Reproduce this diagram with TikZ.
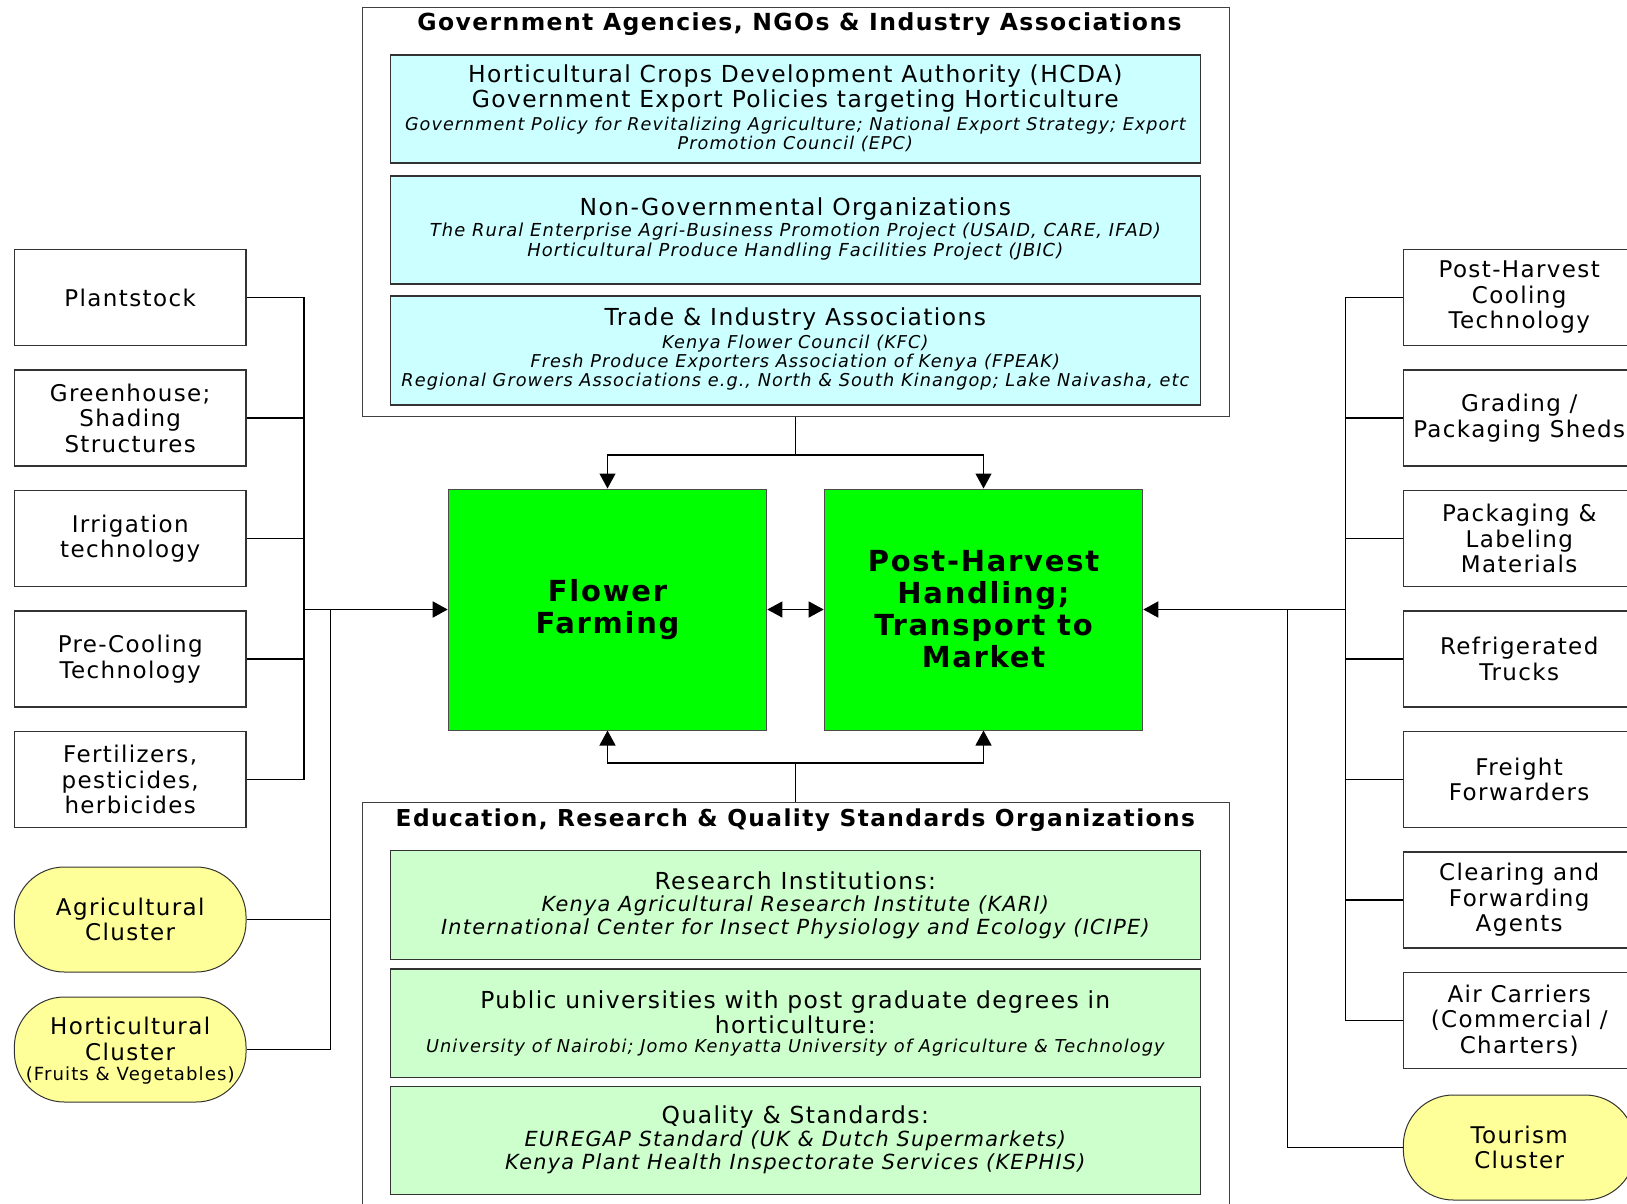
\documentclass[tikz,border=0pt]{standalone}
\usepackage{fontspec}
\setmainfont{DejaVu Sans}[LetterSpace=6.0]
\usetikzlibrary{arrows.meta,calc}
\definecolor{cyanfill}{HTML}{CCFFFF}
\definecolor{greenfill}{HTML}{CCFFCC}
\definecolor{yellowfill}{HTML}{FFFF99}
\definecolor{corefill}{HTML}{00FF00}
\begin{document}
\begin{tikzpicture}[x=1pt,y=-1pt,
  >={Triangle[length=15pt,width=16pt]},
  outer/.style={draw=black!75,line width=1.2pt,inner sep=0pt,minimum width=867.5pt},
  cyanbox/.style={draw=black!80,line width=1.2pt,fill=cyanfill,inner sep=0pt,minimum width=810.4pt,minimum height=108pt},
  greenbox/.style={draw=black!80,line width=1.2pt,fill=greenfill,inner sep=0pt,minimum width=810.4pt,minimum height=108.5pt},
  sidebox/.style={draw=black!80,line width=1.2pt,inner sep=0pt,minimum width=231.7pt,minimum height=96pt,align=center,font=\fontsize{23}{25.5}\selectfont},
  cluster/.style={draw=black!80,line width=1pt,fill=yellowfill,rounded corners=50pt,inner sep=0pt,minimum width=231.7pt,minimum height=105pt,align=center,font=\fontsize{23}{25.5}\selectfont},
  core/.style={draw=black!70,line width=1pt,fill=corefill,inner sep=0pt,minimum width=318.6pt,minimum height=241pt,align=center,font=\bfseries\fontsize{29}{32}\selectfont},
  txt/.style={align=center,inner sep=0pt,font=\fontsize{23.4}{25}\selectfont},
  ttl/.style={inner sep=0pt,font=\bfseries\fontsize{23.5}{26}\selectfont},
  conn/.style={draw=black,line width=1.2pt},
  mainln/.style={line width=1.8pt}
]
\useasboundingbox (0,0) rectangle (1627,1204);
\fill[white] (0,0) rectangle (1627,1204);
\clip (0,0) rectangle (1627,1204);

% ---------- top group ----------
\node[outer,minimum height=409.1pt] (gov) at (795.85,211.85) {};
\node[ttl] (govt) at (799.5,24) {Government Agencies, NGOs \& Industry Associations};

\node[cyanbox] (c1) at (795.3,109) {};
\node[txt] (c1m) at (795.3,88.5) {Horticultural Crops Development Authority (HCDA)\\Government Export Policies targeting Horticulture};
\node[txt,font=\itshape\fontsize{17.6}{19}\selectfont] (c1i) at (795.3,134.8) {Government Policy for Revitalizing Agriculture; National Export Strategy; Export\\Promotion Council (EPC)};

\node[cyanbox] (c2) at (795.3,230) {};
\node[txt] (c2m) at (795.3,209) {Non-Governmental Organizations};
\node[txt,font=\itshape\fontsize{17.9}{20}\selectfont] (c2i) at (795.3,241.7) {The Rural Enterprise Agri-Business Promotion Project (USAID, CARE, IFAD)\\Horticultural Produce Handling Facilities Project (JBIC)};

\node[cyanbox,minimum height=109pt] (c3) at (795.3,350.5) {};
\node[txt] (c3m) at (795.3,319.5) {Trade \& Industry Associations};
\node[txt,font=\itshape\fontsize{17.7}{19.2}\selectfont] (c3i) at (795.3,362.4) {Kenya Flower Council (KFC)\\Fresh Produce Exporters Association of Kenya (FPEAK)\\Regional Growers Associations e.g., North \& South Kinangop; Lake Naivasha, etc};

% ---------- bottom group ----------
\node[outer,minimum height=430pt,anchor=north] (edu) at (795.85,802) {};
\node[ttl,font=\bfseries\fontsize{23.3}{26}\selectfont] (edut) at (795.3,820) {Education, Research \& Quality Standards Organizations};

\node[greenbox] (g1) at (795.3,905) {};
\node[txt] (g1m) at (795.3,880.5) {Research Institutions:};
\node[txt,font=\itshape\fontsize{20.8}{22.6}\selectfont] (g1i) at (795.3,917) {Kenya Agricultural Research Institute (KARI)\\International Center for Insect Physiology and Ecology (ICIPE)};

\node[greenbox] (g2) at (795.3,1023.2) {};
\node[txt] (g2m) at (795.3,1012.5) {Public universities with post graduate degrees in\\horticulture:};
\node[txt,font=\itshape\fontsize{17.75}{20}\selectfont] (g2i) at (795.3,1047.7) {University of Nairobi; Jomo Kenyatta University of Agriculture \& Technology};

\node[greenbox] (g3) at (795.3,1140.5) {};
\node[txt] (g3m) at (795.3,1116.8) {Quality \& Standards:};
\node[txt,font=\itshape\fontsize{20.8}{22.3}\selectfont] (g3i) at (795.3,1152.2) {EUREGAP Standard (UK \& Dutch Supermarkets)\\Kenya Plant Health Inspectorate Services (KEPHIS)};

% ---------- core ----------
\node[core] (ff) at (607.5,609.5) {Flower\\Farming};
\node[core] (ph) at (983.5,609.5) {Post-Harvest\\Handling;\\Transport to\\Market};

% ---------- left column ----------
\node[sidebox] (l1) at (130.2,297.5) {Plantstock};
\node[sidebox] (l2) at (130.2,418) {Greenhouse;\\Shading\\Structures};
\node[sidebox] (l3) at (130.2,538.5) {Irrigation\\technology};
\node[sidebox] (l4) at (130.2,659) {Pre-Cooling\\Technology};
\node[sidebox] (l5) at (130.2,779.5) {Fertilizers,\\pesticides,\\herbicides};
\node[cluster] (ac) at (130.2,919.5) {Agricultural\\Cluster};
\node[cluster] (hc) at (130.2,1049.5) {};
\node[txt,font=\fontsize{23}{25.5}\selectfont] (hct) at (130.2,1039) {Horticultural\\Cluster};
\node[txt,font=\fontsize{18.1}{19}\selectfont] (hcs) at (130.2,1075) {(Fruits \& Vegetables)};

% ---------- right column ----------
\node[sidebox] (r1) at (1519.2,297.5) {Post-Harvest\\Cooling\\Technology};
\node[sidebox] (r2) at (1519.2,418) {Grading /\\Packaging Sheds};
\node[sidebox] (r3) at (1519.2,538.5) {Packaging \&\\Labeling\\Materials};
\node[sidebox] (r4) at (1519.2,659) {Refrigerated\\Trucks};
\node[sidebox] (r5) at (1519.2,779.5) {Freight\\Forwarders};
\node[sidebox] (r6) at (1519.2,900) {Clearing and\\Forwarding\\Agents};
\node[sidebox] (r7) at (1519.2,1020.5) {Air Carriers\\(Commercial /\\Charters)};
\node[cluster] (tc) at (1519.2,1147.5) {Tourism\\Cluster};

% ---------- connectors: top / bottom ----------
\coordinate (tj) at (795.85,455);
\draw[conn] (gov.south) -- (tj);
\draw[conn,->] (tj) -| (ff.north);
\draw[conn,->] (tj) -| (ph.north);
\coordinate (bj) at (795.85,763);
\draw[conn] (edu.north) -- (bj);
\draw[conn,->] (bj) -| (ff.south);
\draw[conn,->] (bj) -| (ph.south);
\draw[conn,<->] (ff.east) -- (ph.west);

% ---------- connectors: left ----------
\coordinate (lb) at (304,609.5);
\coordinate (lc) at (330.7,609.5);
\draw[conn] (l1.east) -| (lb |- l5.east) -- (l5.east);
\foreach \n in {l2,l3,l4} \draw[conn] (\n.east) -- (\n.east -| lb);
\draw[conn,mainln,->] (lb) -- (ff.west);
\draw[conn] (lc) |- (hc.east);
\draw[conn] (ac.east) -- (ac.east -| lc);

% ---------- connectors: right ----------
\coordinate (rb) at (1345.3,609.5);
\coordinate (rc) at (1287.7,609.5);
\draw[conn] (r1.west) -| (rb |- r7.west) -- (r7.west);
\foreach \n in {r2,r3,r4,r5,r6} \draw[conn] (\n.west) -- (\n.west -| rb);
\draw[conn,mainln,->] (rb) -- (ph.east);
\draw[conn] (rc) |- (tc.west);
\end{tikzpicture}
\end{document}
